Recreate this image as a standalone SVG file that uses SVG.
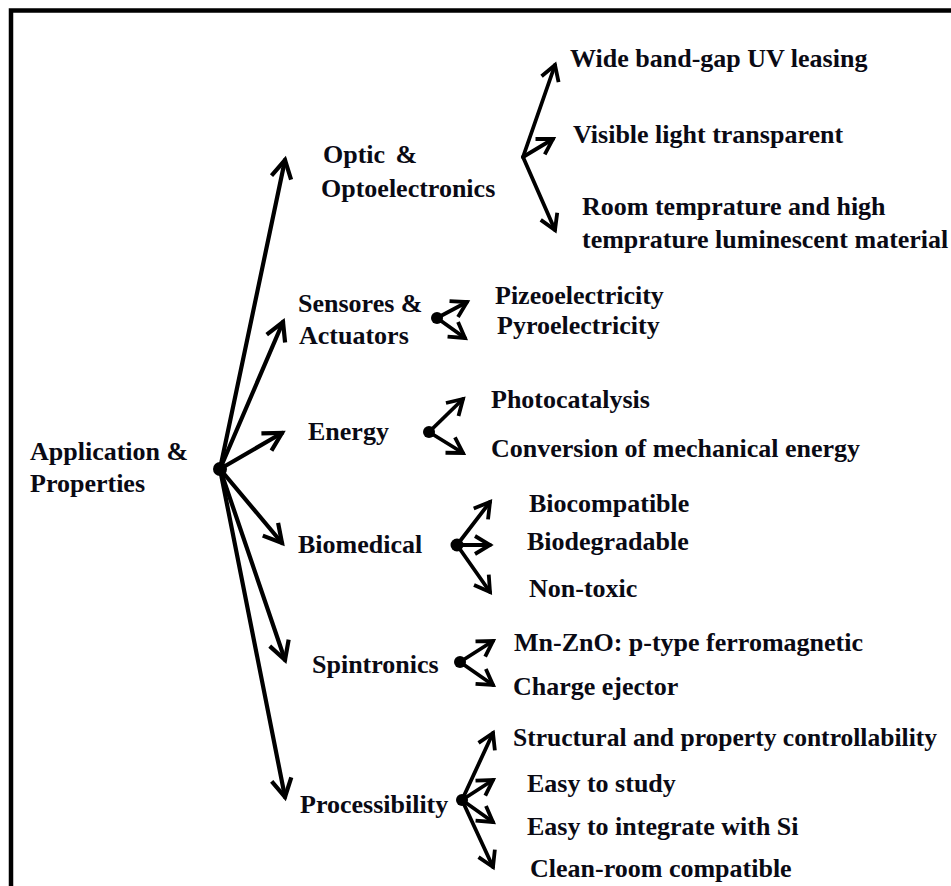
<svg xmlns="http://www.w3.org/2000/svg" width="951" height="886" viewBox="0 0 951 886">
<style>
text{font-family:"Liberation Serif","Times New Roman",serif;font-weight:bold;font-size:26px;fill:#0a0a14}
.ln{stroke:#000;stroke-width:4.2;fill:none;stroke-linecap:round}
.sl{stroke:#000;stroke-width:3.8;fill:none;stroke-linecap:round}
.dot{fill:#000}
</style>
<defs>
<marker id="ah" markerUnits="userSpaceOnUse" orient="auto" refX="0" refY="0" markerWidth="30" markerHeight="30" viewBox="-20 -15 30 30" overflow="visible">
<path d="M-18,-10 L0,0 L-18,10" fill="none" stroke="#000" stroke-width="4.2" stroke-linejoin="miter"/>
</marker>
<marker id="ahs" markerUnits="userSpaceOnUse" orient="auto" refX="0" refY="0" markerWidth="30" markerHeight="30" viewBox="-20 -15 30 30" overflow="visible">
<path d="M-15,-9 L0,0 L-15,9" fill="none" stroke="#000" stroke-width="3.8" stroke-linejoin="miter"/>
</marker>
</defs>
<rect width="951" height="886" fill="#fff"/>
<path d="M11,886 V10.5 H951" fill="none" stroke="#000" stroke-width="4.5"/>

<g id="connectors">
<line class="ln" x1="220" y1="469" x2="285" y2="160" marker-end="url(#ah)"/>
<line class="ln" x1="220" y1="469" x2="283" y2="322" marker-end="url(#ah)"/>
<line class="ln" x1="220" y1="469" x2="282" y2="433" marker-end="url(#ah)"/>
<line class="ln" x1="220" y1="469" x2="282" y2="543" marker-end="url(#ah)"/>
<line class="ln" x1="220" y1="469" x2="285" y2="660" marker-end="url(#ah)"/>
<line class="ln" x1="220" y1="469" x2="285" y2="797" marker-end="url(#ah)"/>

<line class="sl" x1="523" y1="157" x2="555" y2="65" marker-end="url(#ahs)"/>
<line class="sl" x1="523" y1="157" x2="553" y2="139" marker-end="url(#ahs)"/>
<line class="sl" x1="523" y1="157" x2="555" y2="230" marker-end="url(#ahs)"/>

<line class="sl" x1="437" y1="318" x2="467" y2="302" marker-end="url(#ahs)"/>
<line class="sl" x1="437" y1="318" x2="465" y2="338" marker-end="url(#ahs)"/>

<line class="sl" x1="429" y1="432" x2="463" y2="399" marker-end="url(#ahs)"/>
<line class="sl" x1="429" y1="432" x2="463" y2="453" marker-end="url(#ahs)"/>

<line class="sl" x1="457" y1="545" x2="490" y2="502" marker-end="url(#ahs)"/>
<line class="sl" x1="457" y1="545" x2="490" y2="545" marker-end="url(#ahs)"/>
<line class="sl" x1="457" y1="545" x2="490" y2="592" marker-end="url(#ahs)"/>

<line class="sl" x1="460" y1="662" x2="493" y2="641" marker-end="url(#ahs)"/>
<line class="sl" x1="460" y1="662" x2="493" y2="685" marker-end="url(#ahs)"/>

<line class="sl" x1="462" y1="800" x2="493" y2="733" marker-end="url(#ahs)"/>
<line class="sl" x1="462" y1="800" x2="493" y2="780" marker-end="url(#ahs)"/>
<line class="sl" x1="462" y1="800" x2="493" y2="822" marker-end="url(#ahs)"/>
<line class="sl" x1="462" y1="800" x2="493" y2="867" marker-end="url(#ahs)"/>

<circle class="dot" cx="220" cy="469" r="7"/>
<circle class="dot" cx="437" cy="318" r="6"/>
<circle class="dot" cx="429" cy="432" r="6"/>
<circle class="dot" cx="457" cy="545" r="6.5"/>
<circle class="dot" cx="460" cy="662" r="6"/>
<circle class="dot" cx="462" cy="800" r="6"/>
</g>

<g id="root"><text x="30" y="460">Application &amp;</text><text x="30" y="492">Properties</text></g>

<g id="optic"><text x="323" y="163">Optic <tspan dx="4">&amp;</tspan></text><text x="321" y="197">Optoelectronics</text></g>
<g id="optic-1"><text x="570" y="67">Wide band-gap UV leasing</text></g>
<g id="optic-2"><text x="573" y="143">Visible light transparent</text></g>
<g id="optic-3"><text x="582" y="215">Room temprature and high</text><text x="582" y="248">temprature luminescent material</text></g>

<g id="sensors"><text x="298" y="312">Sensores &amp;</text><text x="299" y="344">Actuators</text></g>
<g id="sensors-1"><text x="495" y="304">Pizeoelectricity</text></g>
<g id="sensors-2"><text x="497" y="334">Pyroelectricity</text></g>

<g id="energy"><text x="308" y="440">Energy</text></g>
<g id="energy-1"><text x="491" y="408">Photocatalysis</text></g>
<g id="energy-2"><text x="491" y="457">Conversion of mechanical energy</text></g>

<g id="biomedical"><text x="298" y="553">Biomedical</text></g>
<g id="bio-1"><text x="529" y="512">Biocompatible</text></g>
<g id="bio-2"><text x="527" y="550">Biodegradable</text></g>
<g id="bio-3"><text x="529" y="597">Non-toxic</text></g>

<g id="spintronics"><text x="312" y="673">Spintronics</text></g>
<g id="spin-1"><text x="514" y="651">Mn-ZnO: p-type ferromagnetic</text></g>
<g id="spin-2"><text x="513" y="695">Charge ejector</text></g>

<g id="processibility"><text x="300" y="813">Processibility</text></g>
<g id="proc-1"><text x="513" y="746" textLength="424" lengthAdjust="spacingAndGlyphs">Structural and property controllability</text></g>
<g id="proc-2"><text x="527" y="792">Easy to study</text></g>
<g id="proc-3"><text x="527" y="835">Easy to integrate with Si</text></g>
<g id="proc-4"><text x="530" y="877">Clean-room compatible</text></g>
</svg>
